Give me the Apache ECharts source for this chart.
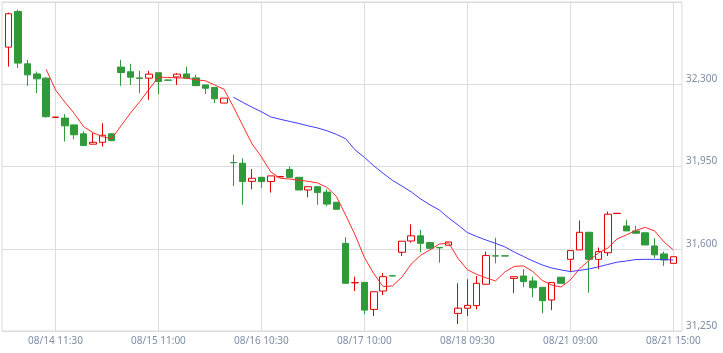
<!DOCTYPE html>
<html>
<head>
<meta charset="utf-8">
<script src="https://cdn.jsdelivr.net/npm/echarts@6/dist/echarts.min.js"></script>
<style>
  html, body { margin: 0; padding: 0; background: #fff; }
  #chart { width: 723px; height: 353px; }
</style>
</head>
<body>
<div id="chart"></div>
<script>
// trading days and bar times (12 bars a day)
var days = ['08/14', '08/15', '08/16', '08/17', '08/18', '08/21'];
var times = ['09:00', '09:30', '10:00', '10:30', '11:00', '11:30', '12:30', '13:00', '13:30', '14:00', '14:30', '15:00'];

// [open, close, low, high]
var ohlc = [
  [32458, 32600, 32375, 32605], [32610, 32390, 32369, 32617], [32387, 32340, 32293, 32404],
  [32344, 32323, 32262, 32354], [32326, 32162, 32158, 32330], [32159, 32160, 32158, 32161],
  [32156, 32123, 32056, 32173], [32127, 32085, 32066, 32127], [32089, 32039, 32039, 32099],
  [32045, 32053, 32045, 32092], [32053, 32083, 32035, 32134], [32089, 32060, 32058, 32092],
  [32373, 32350, 32293, 32404], [32353, 32330, 32297, 32387], [32327, 32325, 32262, 32357],
  [32326, 32343, 32234, 32357], [32349, 32312, 32258, 32349], [32318, 32317, 32316, 32319],
  [32331, 32343, 32297, 32347], [32344, 32326, 32326, 32375], [32327, 32294, 32294, 32340],
  [32297, 32283, 32258, 32297], [32286, 32238, 32220, 32286], [32220, 32241, 32220, 32241],
  [31967, 31966, 31867, 32000], [31964, 31886, 31787, 31985], [31887, 31900, 31853, 31939],
  [31904, 31886, 31858, 31904], [31886, 31910, 31839, 31910], [31906, 31907, 31906, 31907],
  [31937, 31904, 31904, 31950], [31904, 31850, 31850, 31904], [31850, 31864, 31819, 31864],
  [31864, 31839, 31787, 31864], [31841, 31790, 31782, 31853], [31798, 31768, 31768, 31798],
  [31623, 31453, 31453, 31649], [31455, 31456, 31420, 31481], [31457, 31339, 31322, 31457],
  [31342, 31417, 31314, 31417], [31420, 31481, 31403, 31496], [31485, 31484, 31484, 31485],
  [31585, 31632, 31569, 31632], [31633, 31655, 31626, 31704], [31655, 31623, 31585, 31680],
  [31626, 31602, 31600, 31630], [31605, 31604, 31541, 31605], [31615, 31629, 31615, 31629],
  [31325, 31347, 31280, 31453], [31347, 31359, 31314, 31470], [31358, 31453, 31342, 31484],
  [31449, 31571, 31449, 31588], [31570, 31569, 31538, 31647], [31570, 31569, 31569, 31570],
  [31474, 31481, 31411, 31481], [31484, 31460, 31436, 31513], [31463, 31434, 31393, 31481],
  [31436, 31379, 31325, 31436], [31382, 31456, 31339, 31456], [31479, 31453, 31453, 31479],
  [31555, 31592, 31502, 31592], [31595, 31670, 31595, 31720], [31670, 31555, 31413, 31672],
  [31555, 31588, 31513, 31605], [31583, 31747, 31569, 31758], [31750, 31751, 31750, 31751],
  [31697, 31676, 31676, 31723], [31676, 31666, 31666, 31698], [31668, 31616, 31616, 31668],
  [31612, 31574, 31560, 31645], [31578, 31552, 31527, 31588], [31538, 31566, 31538, 31566]
];

// short average (red), from bar 5 on
var maShort = ['-', '-', '-', '-',
  32364, 32276, 32224, 32176, 32120, 32094, 32077, 32068, 32123, 32177, 32226, 32279,
  32330, 32329, 32327, 32326, 32319, 32315, 32297, 32279, 32204, 32125, 32046, 31991,
  31927, 31900, 31897, 31892, 31887, 31880, 31861, 31823, 31743, 31659, 31563, 31494,
  31439, 31442, 31479, 31535, 31572, 31595, 31620, 31625, 31559, 31511, 31491, 31476,
  31463, 31501, 31525, 31527, 31503, 31465, 31446, 31437, 31467, 31516, 31550, 31582,
  31603, 31642, 31659, 31678, 31691, 31676, 31629, 31595];

// long average (blue), from bar 25 on
var maLong = ['-', '-', '-', '-', '-', '-', '-', '-', '-', '-', '-', '-',
  '-', '-', '-', '-', '-', '-', '-', '-', '-', '-', '-', '-',
  32245, 32223, 32202, 32183, 32161, 32151, 32142, 32133, 32123, 32114, 32102, 32087,
  32068, 32021, 31989, 31953, 31921, 31891, 31867, 31842, 31812, 31787, 31765, 31731,
  31701, 31669, 31652, 31637, 31623, 31608, 31586, 31567, 31548, 31531, 31518, 31510,
  31503, 31508, 31514, 31523, 31533, 31543, 31548, 31554, 31555, 31555, 31554, 31552];

var yMin = 31250, yMax = 32650, yStep = 350;

var categories = [];
days.forEach(function (d) {
  times.forEach(function (t) { categories.push(d + ' ' + t); });
});

var labelEvery = function (i) { return i % 11 === 5; };
var gridColor = '#dcdcdc';
var textColor = '#7e8ea6';
var font = 'Noto Sans';

var chart = echarts.init(document.getElementById('chart'));
chart.setOption({
  animation: false,
  grid: [
    { left: 2, right: 41, top: 2, bottom: 22, show: true, borderColor: gridColor, borderWidth: 1 },
    { left: 4, right: 45, top: 2, bottom: 22 }
  ],
  xAxis: [
    { type: 'value', gridIndex: 0, show: false, min: 0, max: 1 },
    {
      type: 'category', gridIndex: 1, data: categories, boundaryGap: true,
      axisLine: { show: false }, axisTick: { show: false },
      axisLabel: { interval: labelEvery, color: textColor, fontFamily: font, fontSize: 10, margin: 5 },
      splitLine: { show: true, interval: labelEvery, alignWithLabel: true, lineStyle: { color: gridColor } }
    }
  ],
  yAxis: [
    {
      type: 'value', gridIndex: 0, position: 'right', min: yMin, max: yMax, interval: yStep,
      axisLine: { show: false }, axisTick: { show: false },
      axisLabel: {
        showMaxLabel: false, color: textColor, fontFamily: font, fontSize: 10, margin: 4,
        verticalAlign: 'bottom',
        formatter: function (v) { return v.toLocaleString('en-US'); }
      },
      splitLine: { show: true, lineStyle: { color: gridColor } }
    },
    { type: 'value', gridIndex: 1, show: false, min: yMin, max: yMax, interval: yStep }
  ],
  series: [
    {
      type: 'candlestick', xAxisIndex: 1, yAxisIndex: 1, data: ohlc, barWidth: 7,
      itemStyle: {
        color: '#ffffff', color0: '#2f9a3a',
        borderColor: '#e00000', borderColor0: '#2f9a3a', borderWidth: 1
      }
    },
    {
      type: 'line', xAxisIndex: 1, yAxisIndex: 1, data: maShort, showSymbol: false, symbol: 'none',
      lineStyle: { color: '#ff2a2a', width: 1 }
    },
    {
      type: 'line', xAxisIndex: 1, yAxisIndex: 1, data: maLong, showSymbol: false, symbol: 'none',
      lineStyle: { color: '#3c3cff', width: 1 }
    }
  ]
});
</script>
</body>
</html>
